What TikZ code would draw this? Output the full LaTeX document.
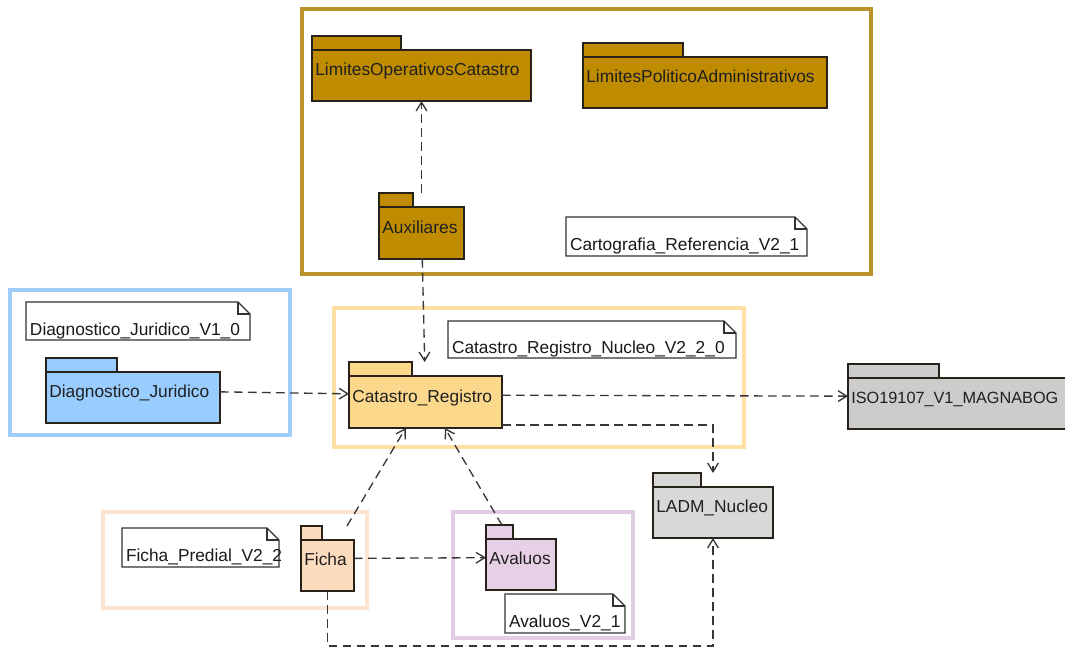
\documentclass[tikz,border=0pt]{standalone}
\usepackage{fontspec}
\setmainfont{Liberation Sans}
\usetikzlibrary{arrows.meta,calc}
\pgfdeclarelayer{background}
\pgfsetlayers{background,main}
\definecolor{goldfill}{RGB}{191,140,0}
\definecolor{goldframe}{RGB}{186,146,42}
\definecolor{bluefill}{RGB}{153,204,255}
\definecolor{blueframe}{RGB}{158,205,252}
\definecolor{catfill}{RGB}{252,216,140}
\definecolor{catframe}{RGB}{255,224,162}
\definecolor{grayfillA}{RGB}{204,204,204}
\definecolor{grayfillB}{RGB}{216,216,216}
\definecolor{fichafill}{RGB}{252,220,190}
\definecolor{fichaframe}{RGB}{252,228,208}
\definecolor{avalfill}{RGB}{230,208,230}
\definecolor{avalframe}{RGB}{226,204,228}
\definecolor{pkgedge}{RGB}{40,34,26}
\definecolor{noteedge}{RGB}{50,50,50}
\definecolor{depcol}{RGB}{55,55,55}
\tikzset{
  pkgtext/.style={inner xsep=2.5pt, inner ysep=0pt, outer sep=0pt, align=left,
    font=\fontsize{13}{15}\selectfont, text height=12pt, text depth=1.2pt, text=black!88},
  pkgline/.style={draw=pkgedge, line width=1.1pt},
  notetext/.style={inner xsep=3pt, inner ysep=0pt, outer sep=0pt, align=left,
    font=\fontsize{13}{15}\selectfont, text height=22pt, text depth=0.7pt, text=black!90},
  noteline/.style={draw=noteedge, line width=0.9pt, fill=white},
  grpframe/.style={line width=3pt},
  dep/.style={draw=depcol, line width=1pt, dash pattern=on 6.5pt off 4pt,
    -{Straight Barb[length=6.5pt,width=8pt,line width=1pt]}},
}
\newcommand\pkgbox[8]{%
  \pgfmathsetmacro\pkW{(#4-#2)*0.75-5}%
  \pgfmathsetmacro\pkH{(#5-#3)*0.75}%
  \node[pkgtext, text width=\pkW pt, minimum height=\pkH pt] (#1) at ({(#2+#4)/2},{(#3+#5)/2}) {#8};
  \begin{pgfonlayer}{background}
    \draw[pkgline, fill=#7] (#1.north west) rectangle ++(#6,14);
    \draw[pkgline, fill=#7] ($(#1.north west)+(0,14)$) rectangle (#1.south east);
  \end{pgfonlayer}}
\newcommand\notebox[6]{%
  \pgfmathsetmacro\nW{(#4-#2)*0.75-6}%
  \pgfmathsetmacro\nH{(#5-#3)*0.75}%
  \node[notetext, text width=\nW pt, minimum height=\nH pt] (#1) at ({(#2+#4)/2},{(#3+#5)/2}) {#6};
  \begin{pgfonlayer}{background}
    \draw[noteline] (#1.north west) -- ($(#1.north east)+(-12,0)$) -- ($(#1.north east)+(0,12)$) -- (#1.south east) -- (#1.south west) -- cycle;
    \draw[noteline, fill=none] ($(#1.north east)+(-12,0)$) |- ($(#1.north east)+(0,12)$);
  \end{pgfonlayer}}
\begin{document}
\begin{tikzpicture}[x=0.75pt, y=-0.75pt]
\useasboundingbox (0,0) rectangle (1065,650);
\begin{pgfonlayer}{background}
  \fill[white] (0,0) rectangle (1065,650);
  \draw[grpframe, draw=goldframe] (302,9) rectangle (871,274);
  \draw[grpframe, draw=blueframe] (10,290) rectangle (290,435);
  \draw[grpframe, draw=catframe] (334,308) rectangle (744,447);
  \draw[grpframe, draw=fichaframe] (103,512) rectangle (367,608);
  \draw[grpframe, draw=avalframe] (453,512) rectangle (633,638);
\end{pgfonlayer}

% packages
\pkgbox{limop}{312}{36}{531}{101}{89}{goldfill}{LimitesOperativosCatastro}
\pkgbox{limpol}{583}{43}{827}{108}{100}{goldfill}{LimitesPoliticoAdministrativos}
\pkgbox{aux}{379}{193}{464}{259}{34}{goldfill}{Auxiliares}
\pkgbox{diag}{46}{358}{220}{423}{71}{bluefill}{Diagnostico\_Juridico}
\pkgbox{cat}{349}{362}{502}{428}{63}{catfill}{Catastro\_Registro}
\pkgbox{iso}{848}{364}{1095}{429}{91}{grayfillA}{\fontsize{12.2}{15}\selectfont ISO19107\_V1\_MAGNABOG}
\pkgbox{ladm}{653}{473}{773}{538}{48}{grayfillB}{LADM\_Nucleo}
\pkgbox{ficha}{301}{526}{354}{591}{21}{fichafill}{Ficha}
\pkgbox{aval}{486}{525}{556}{590}{27}{avalfill}{Avaluos}

% notes
\notebox{ncart}{566}{217}{807}{256}{Cartografia\_Referencia\_V2\_1}
\notebox{ndiag}{26}{302}{250}{340}{Diagnostico\_Juridico\_V1\_0}
\notebox{ncat}{448}{321}{736}{358}{Catastro\_Registro\_Nucleo\_V2\_2\_0}
\notebox{nficha}{122}{528}{279}{567}{Ficha\_Predial\_V2\_2}
\notebox{naval}{505}{594}{625}{633}{Avaluos\_V2\_1}

% dependencies
\draw[dep] (aux) -- (limop);
\draw[dep] (aux) -- (cat);
\draw[dep] (diag) -- (cat);
\draw[dep] (cat) -- (iso);
\draw[dep] ($(cat.south east)+(0,-3)$) -| (ladm.north);
\draw[dep] (ficha) -- (cat);
\draw[dep] (aval) -- (cat);
\draw[dep] (ficha) -- (aval);
\draw[dep] (ficha.south) -- ++(0,55) -| (ladm.south);
\end{tikzpicture}
\end{document}
